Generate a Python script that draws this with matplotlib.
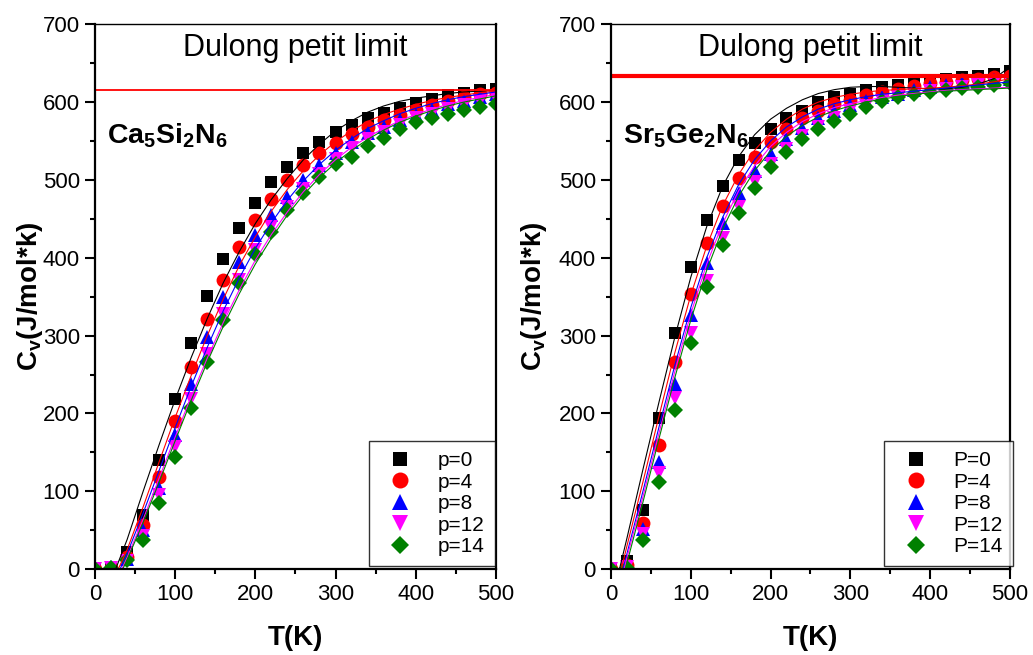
from matplotlib import pyplot as plt

plt.rcParams['font.family'] = ['Liberation Sans', 'DejaVu Sans']
plt.rcParams['mathtext.fontset'] = 'custom'
plt.rcParams['mathtext.rm'] = 'Liberation Sans:bold'
plt.rcParams['mathtext.it'] = 'Liberation Sans:bold'
plt.rcParams['mathtext.bf'] = 'Liberation Sans:bold'

T = list(range(0, 501, 20))

# Ca5Si2N6: computed points
ca_p0 = [0, 3, 22, 69, 140, 218, 290, 351, 398, 438, 470, 497, 517, 535, 549, 561, 571, 579, 586, 592, 599, 604, 609, 612, 615, 617]
ca_p4 = [0, 2, 16, 57, 119, 190, 260, 321, 372, 414, 448, 476, 500, 519, 535, 547, 559, 568, 577, 584, 590, 596, 601, 606, 610, 612]
ca_p8 = [0, 3, 13, 50, 104, 172, 238, 298, 350, 395, 429, 455, 478, 500, 519, 534, 549, 560, 568, 577, 584, 590, 597, 601, 606, 610]
ca_p12 = [0, 1, 10, 43, 95, 157, 218, 277, 328, 372, 410, 440, 465, 488, 508, 527, 541, 553, 562, 571, 579, 585, 591, 596, 601, 605]
ca_p14 = [0, 1, 12, 37, 85, 144, 207, 266, 320, 367, 405, 433, 461, 483, 504, 520, 530, 543, 554, 565, 575, 580, 585, 590, 594, 598]

# Ca5Si2N6: fitted curves
ca_fit0 = [-95, -15, 38, 100, 160, 218, 272, 322, 368, 408, 444, 475, 502, 526, 546, 563, 576, 587, 595, 601, 605, 608, 611, 613, 614, 615]
ca_fit4 = [-110, -20, 25, 80, 138, 195, 249, 300, 347, 390, 427, 460, 488, 512, 532, 549, 563, 575, 584, 591, 597, 602, 606, 609, 612, 614]
ca_fit8 = [-120, -25, 20, 72, 127, 182, 235, 285, 332, 374, 412, 445, 474, 499, 520, 538, 553, 566, 576, 585, 592, 598, 603, 607, 610, 613]
ca_fit12 = [-125, -30, 15, 64, 117, 170, 222, 271, 317, 359, 397, 430, 459, 485, 507, 526, 542, 555, 566, 576, 584, 591, 597, 602, 606, 610]
ca_fit14 = [-128, -32, 12, 60, 112, 165, 217, 266, 312, 354, 392, 425, 455, 481, 503, 522, 538, 552, 564, 574, 582, 589, 595, 600, 604, 608]

# Sr5Ge2N6: computed points
sr_p0 = [0, 11, 76, 194, 304, 388, 448, 492, 525, 548, 565, 579, 589, 600, 606, 610, 615, 619, 622, 627, 628, 630, 632, 634, 636, 640]
sr_p4 = [0, 6, 59, 160, 266, 354, 419, 467, 503, 530, 549, 566, 579, 588, 597, 603, 609, 613, 617, 621, 624, 626, 629, 630, 632, 634]
sr_p8 = [0, 4, 51, 138, 238, 326, 393, 445, 483, 512, 533, 553, 567, 579, 589, 596, 602, 607, 611, 615, 619, 622, 624, 626, 628, 630]
sr_p12 = [0, 3, 45, 123, 220, 303, 370, 425, 465, 497, 520, 540, 556, 568, 580, 588, 595, 601, 606, 610, 614, 617, 620, 622, 624, 626]
sr_p14 = [0, 1, 37, 112, 204, 290, 362, 416, 458, 490, 516, 536, 552, 565, 576, 585, 594, 601, 606, 610, 613, 616, 618, 620, 622, 624]

# Sr5Ge2N6: fitted curves
sr_fit0 = [-45, 40, 128, 214, 298, 375, 440, 492, 530, 558, 578, 592, 603, 611, 616, 619, 620, 620, 619, 618, 617, 617, 619, 623, 630, 645]
sr_fit4 = [-55, 30, 112, 196, 278, 352, 415, 467, 507, 538, 561, 578, 591, 600, 606, 610, 613, 615, 616, 617, 618, 619, 621, 623, 626, 630]
sr_fit8 = [-62, 20, 100, 182, 262, 336, 400, 452, 494, 526, 550, 568, 581, 591, 598, 603, 607, 610, 612, 614, 616, 618, 620, 622, 624, 626]
sr_fit12 = [-67, 15, 93, 174, 254, 328, 392, 444, 486, 518, 543, 561, 575, 585, 593, 598, 602, 606, 609, 611, 613, 615, 616, 617, 618, 619]
sr_fit14 = [-72, 8, 86, 167, 246, 320, 384, 437, 479, 512, 537, 556, 570, 581, 589, 595, 600, 604, 607, 610, 612, 614, 615, 616, 617, 618]

pressures = [0, 4, 8, 12, 14]
dulong_ca = 616
dulong_sr = 634

colors = ['black', 'red', 'blue', 'magenta', 'green']
markers = ['s', 'o', '^', 'v', 'D']
sizes = [9, 10, 10, 10, 8]


def draw_panel(ax, points, fits, limit, limit_lw, formula, prefix, legend_x):
    """Heat capacity vs temperature for one compound"""
    for pts, c, m, s, p in zip(points, colors, markers, sizes, pressures):
        ax.plot(T, pts, linestyle='none', marker=m, markersize=s,
                color=c, markeredgewidth=0, label='%s=%d' % (prefix, p))
    for fit, c in zip(fits, colors):
        ax.plot(T, fit, color=c, linewidth=0.8)

    ax.axhline(limit, color='red', linewidth=limit_lw)
    ax.text(0.5, 0.983, 'Dulong petit limit', transform=ax.transAxes,
            ha='center', va='top', fontsize=22)
    ax.text(0.03, 0.795, formula, transform=ax.transAxes,
            ha='left', va='center', fontsize=20.5)

    ax.set_xlim(0, 500)
    ax.set_ylim(0, 700)
    ax.set_xticks(range(0, 501, 100))
    ax.set_xticks(range(50, 500, 100), minor=True)
    ax.set_yticks(range(0, 701, 100))
    ax.set_yticks(range(50, 700, 100), minor=True)
    ax.tick_params(which='major', direction='out', length=7, width=1.5,
                   labelsize=16, pad=4)
    ax.tick_params(which='minor', direction='out', length=3.5, width=1.5)
    for side in ['left', 'bottom', 'right']:
        ax.spines[side].set_linewidth(1.6)
    ax.spines['top'].set_linewidth(1.0)

    ax.set_xlabel('T(K)', fontsize=20, fontweight='bold', labelpad=14)
    ax.set_ylabel('$C_v$(J/mol*k)', fontsize=20, fontweight='bold')

    leg = ax.legend(loc='lower right', bbox_to_anchor=(legend_x, 0.005),
                    fontsize=15, frameon=True, fancybox=False,
                    borderaxespad=0, handletextpad=0.8, labelspacing=0.12,
                    borderpad=0.5, handlelength=2.0, markerscale=1.15)
    leg.get_frame().set_edgecolor('black')
    leg.get_frame().set_linewidth(1.0)


def main():
    fig = plt.figure(figsize=(10.33, 6.55), dpi=100)
    ax1 = fig.add_axes([0.092, 0.131, 0.388, 0.832])
    ax2 = fig.add_axes([0.5915, 0.131, 0.386, 0.832])

    draw_panel(ax1, [ca_p0, ca_p4, ca_p8, ca_p12, ca_p14],
               [ca_fit0, ca_fit4, ca_fit8, ca_fit12, ca_fit14],
               dulong_ca, 1.3, r'$\mathrm{Ca_5Si_2N_6}$', 'p', 0.997)
    draw_panel(ax2, [sr_p0, sr_p4, sr_p8, sr_p12, sr_p14],
               [sr_fit0, sr_fit4, sr_fit8, sr_fit12, sr_fit14],
               dulong_sr, 3.0, r'$\mathrm{Sr_5Ge_2N_6}$', 'P', 1.008)

    ax1.yaxis.set_label_coords(-0.125, 0.5)
    ax2.yaxis.set_label_coords(-0.155, 0.5)

    fig.savefig('out.png', dpi=100)


if __name__ == '__main__':
    main()
